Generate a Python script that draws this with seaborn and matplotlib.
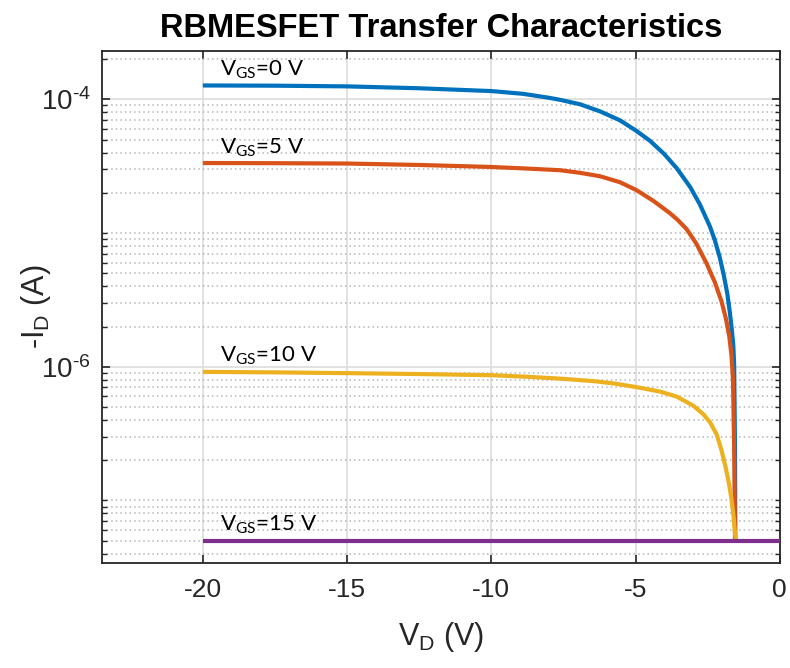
import matplotlib
matplotlib.use("Agg")
import matplotlib.pyplot as plt
import numpy as np
import pandas as pd
import seaborn as sns
from matplotlib.ticker import FixedLocator, NullFormatter

# Drain current -I_D (A) versus drain voltage V_D (V) for each gate bias
vgs_labels = ["0", "5", "10", "15"]

vd_0 = [-20, -17.5, -15, -12.5, -10, -8.89, -7.99, -7.61, -6.92, -6.23, -5.54,
        -4.97, -4.50, -4.01, -3.57, -3.10, -2.77, -2.42, -2.25, -2.08, -1.94,
        -1.82, -1.73, -1.66, -1.61, -1.58, -1.55, -1.54]
id_0 = [1.27e-4, 1.265e-4, 1.25e-4, 1.21e-4, 1.153e-4, 1.099e-4, 1.026e-4,
        9.91e-5, 9.18e-5, 8.13e-5, 6.97e-5, 5.81e-5, 4.90e-5, 3.91e-5,
        3.05e-5, 2.20e-5, 1.64e-5, 1.12e-5, 8.84e-6, 6.59e-6, 4.84e-6,
        3.55e-6, 2.56e-6, 1.88e-6, 1.45e-6, 1.03e-6, 2.38e-7, 5.0e-8]

vd_5 = [-20, -17.5, -15, -12.5, -10, -8.82, -7.61, -6.92, -6.23, -5.54, -4.96,
        -4.38, -3.81, -3.53, -3.23, -3.06, -2.88, -2.54, -2.25, -2.02, -1.87,
        -1.75, -1.67, -1.62, -1.58, -1.55]
id_5 = [3.34e-5, 3.33e-5, 3.31e-5, 3.23e-5, 3.12e-5, 3.04e-5, 2.95e-5,
        2.82e-5, 2.66e-5, 2.40e-5, 2.09e-5, 1.74e-5, 1.41e-5, 1.25e-5,
        1.07e-5, 9.46e-6, 8.25e-6, 5.95e-6, 4.29e-6, 3.09e-6, 2.31e-6,
        1.69e-6, 1.20e-6, 7.94e-7, 2.38e-7, 5.0e-8]

vd_10 = [-20, -17.5, -15, -12.5, -10, -8.82, -7.61, -6.46, -5.71, -4.96, -4.15,
         -3.57, -3.0, -2.65, -2.42, -2.19, -2.02, -1.88, -1.76, -1.67, -1.60,
         -1.55, -1.51]
id_10 = [9.16e-7, 9.08e-7, 8.96e-7, 8.82e-7, 8.65e-7, 8.43e-7, 8.15e-7,
         7.81e-7, 7.48e-7, 7.04e-7, 6.52e-7, 5.98e-7, 5.12e-7, 4.42e-7,
         3.85e-7, 3.13e-7, 2.38e-7, 1.79e-7, 1.34e-7, 1.01e-7, 7.55e-8,
         5.68e-8, 5.0e-8]

vd_15 = [-20, 0]
id_15 = [5.0e-8, 5.0e-8]

x_ticks = [-20, -15, -10, -5, 0]
y_ticks = [1e-6, 1e-4]
y_tick_labels = ["$10^{\u20106}$", "$10^{\u20104}$"]

colors = ["#0072BD", "#D95319", "#EDB120", "#7E2F8E"]

frames = []
for lab, vd, cur in zip(vgs_labels, [vd_0, vd_5, vd_10, vd_15],
                        [id_0, id_5, id_10, id_15]):
    frames.append(pd.DataFrame({"VD": vd, "ID": cur, "VGS": lab}))
df = pd.concat(frames, ignore_index=True)

sns.set_theme(style="white")
plt.rcParams.update({
    "font.family": ["Liberation Sans", "DejaVu Sans"],
    "axes.unicode_minus": False,
    "mathtext.default": "regular",
})

ink = "#262626"
fig = plt.figure(figsize=(7.9, 6.68), dpi=100)
ax = fig.add_axes([0.129, 0.157, 0.858, 0.7667])
ax.set_yscale("log")

sns.lineplot(data=df, x="VD", y="ID", hue="VGS", hue_order=vgs_labels,
             palette=dict(zip(vgs_labels, colors)), linewidth=3.0,
             estimator=None, sort=False, legend=False, ax=ax, zorder=3)
for line in ax.lines:
    line.set_solid_capstyle("butt")
    line.set_solid_joinstyle("round")

ax.set_xlim(-23.5, 0)
ax.set_ylim(3.4e-8, 2.3e-4)

# ticks
ax.xaxis.set_major_locator(FixedLocator(x_ticks))
ax.set_xticklabels([str(t) for t in x_ticks])
ax.yaxis.set_major_locator(FixedLocator(y_ticks))
ax.set_yticklabels(y_tick_labels)
minor = [k * 10.0 ** e for e in range(-8, -3) for k in range(1, 10)]
minor = [m for m in minor if not any(np.isclose(m, t) for t in y_ticks)]
ax.yaxis.set_minor_locator(FixedLocator(minor))
ax.yaxis.set_minor_formatter(NullFormatter())

ax.tick_params(axis="x", which="major", direction="in", length=6, width=1.2,
               top=True, bottom=True, labelsize=19, pad=11, colors=ink)
ax.tick_params(axis="y", which="major", direction="in", length=6, width=1.2,
               left=True, right=True, labelsize=20, pad=8, colors=ink)
ax.tick_params(axis="y", which="minor", direction="in", length=3.5, width=1.0,
               left=True, right=True, colors=ink)

# grid
ax.grid(True, which="major", axis="both", color="#dcdcdc", linewidth=1.2,
        linestyle="-")
ax.grid(True, which="minor", axis="y", color="#b5b5b5", linewidth=1.1,
        linestyle=(0, (1, 2.0)))
ax.set_axisbelow(True)

for sp in ax.spines.values():
    sp.set_color(ink)
    sp.set_linewidth(1.3)
    sp.set_visible(True)

ax.set_title("RBMESFET Transfer Characteristics", fontsize=23.5,
             fontweight="bold", color="black", pad=10)
ax.set_xlabel(r"V$_D$ (V)", fontsize=22, color=ink)
ax.set_ylabel(r"-I$_D$ (A)", fontsize=22, color=ink)
ax.xaxis.set_label_coords(0.5, -0.112)
ax.yaxis.set_label_coords(-0.072, 0.5)

# gate-bias annotations at the start of each curve
for lab, vd, cur in zip(vgs_labels, [vd_0, vd_5, vd_10, vd_15],
                        [id_0, id_5, id_10, id_15]):
    ax.annotate(r"V$_{GS}$=" + lab + " V", xy=(vd[0], cur[0]),
                xytext=(12, 7), textcoords="offset points", va="baseline",
                ha="left", fontsize=16, color="black",
                family=["Lato", "DejaVu Sans"])

fig.savefig("out.png", dpi=100)
